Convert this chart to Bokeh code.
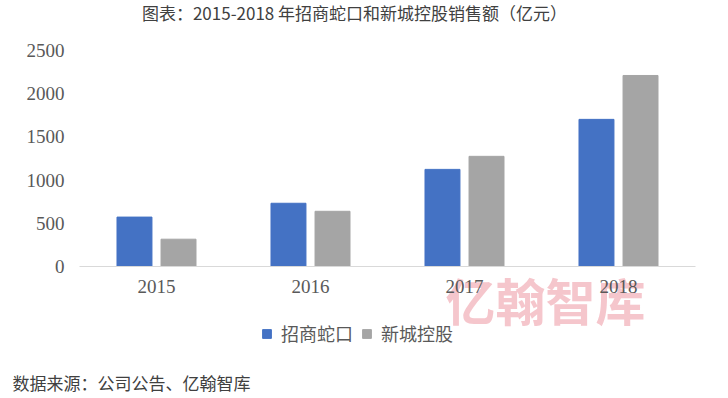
from bokeh.plotting import figure
from bokeh.models import ColumnDataSource, Range1d, Legend, LegendItem, Label, FixedTicker
from bokeh.transform import dodge
from bokeh.embed import file_html
from bokeh.resources import INLINE

years = ["2015", "2016", "2017", "2018"]
zhaoshang = [572, 732, 1124, 1703]
xincheng = [316, 639, 1275, 2211]
y_ticks = [0, 500, 1000, 1500, 2000, 2500]
series_names = ["招商蛇口", "新城控股"]
colors = ["#4472C4", "#A5A5A5"]
title_text = "图表：2015-2018 年招商蛇口和新城控股销售额（亿元）"
source_text = "数据来源：公司公告、亿翰智库"
watermark_text = "亿翰智库"

W, H = 726, 396
# layout (pixels): plot area left/right/top/bottom
left_px, right_px, top_px, zero_px = 79, 695, 50, 266
cat_px = (right_px - left_px) / len(years)
val_per_px = y_ticks[-1] / (zero_px - top_px)

xpos = list(range(len(years)))
src = ColumnDataSource(data=dict(x=xpos, a=zhaoshang, b=xincheng))

x_start = -0.5 - left_px / cat_px
x_end = len(years) - 0.5 + (W - right_px) / cat_px
y_start = -(H - zero_px) * val_per_px
y_end = y_ticks[-1] + top_px * val_per_px

p = figure(width=W, height=H, x_range=Range1d(x_start, x_end), y_range=Range1d(y_start, y_end),
           output_backend="svg", toolbar_location=None, title=None,
           min_border=0, min_border_left=0, min_border_right=0,
           min_border_top=0, min_border_bottom=0)
p.outline_line_color = None
p.xgrid.visible = False
p.ygrid.visible = False

wm = Label(x=545, y=H - 298, x_units="screen", y_units="screen", text=watermark_text,
           text_font="Noto Sans CJK SC", text_font_size="50px", text_font_style="bold",
           text_color="#f2b3bb", text_alpha=0.75, text_align="center",
           text_baseline="middle", level="underlay")
p.add_layout(wm)

r1 = p.vbar(x=dodge("x", -0.143), top="a", width=0.227, source=src, color=colors[0])
r2 = p.vbar(x=dodge("x", 0.143), top="b", width=0.227, source=src, color=colors[1])

for ax in p.left:
    ax.fixed_location = -0.5
    ax.ticker = FixedTicker(ticks=y_ticks)
    ax.axis_line_color = None
    ax.major_tick_line_color = None
    ax.minor_tick_line_color = None
    ax.major_tick_out = 0
    ax.major_label_standoff = 15
    ax.major_label_text_font = "Liberation Serif"
    ax.major_label_text_font_size = "19px"
    ax.major_label_text_color = "#595959"

for ax in p.below:
    ax.fixed_location = 0
    ax.bounds = (-0.5, len(years) - 0.5)
    ax.ticker = FixedTicker(ticks=xpos)
    ax.major_label_overrides = {i: y for i, y in enumerate(years)}
    ax.axis_line_color = "#d9d9d9"
    ax.major_tick_line_color = None
    ax.minor_tick_line_color = None
    ax.major_tick_out = 0
    ax.major_label_standoff = 13
    ax.major_label_text_font = "Liberation Serif"
    ax.major_label_text_font_size = "19px"
    ax.major_label_text_color = "#595959"

legend = Legend(items=[LegendItem(label=series_names[0], renderers=[r1]),
                       LegendItem(label=series_names[1], renderers=[r2])],
                location=(261, 50), orientation="horizontal",
                padding=0, margin=0, border_line_color=None, background_fill_alpha=0,
                glyph_width=11, glyph_height=11, label_standoff=9, spacing=8,
                label_text_font="Noto Sans CJK SC", label_text_font_size="18px",
                label_text_color="#595959")
p.add_layout(legend)

title = Label(x=354, y=H - 12, x_units="screen", y_units="screen", text=title_text,
              text_font="Noto Sans CJK SC", text_font_size="17px", text_color="#404040",
              text_align="center", text_baseline="middle")
p.add_layout(title)

src_label = Label(x=12, y=H - 382, x_units="screen", y_units="screen", text=source_text,
                  text_font="Noto Sans CJK SC", text_font_size="17px", text_color="#404040",
                  text_align="left", text_baseline="middle")
p.add_layout(src_label)

open("out.html", "w").write(file_html(p, INLINE))
